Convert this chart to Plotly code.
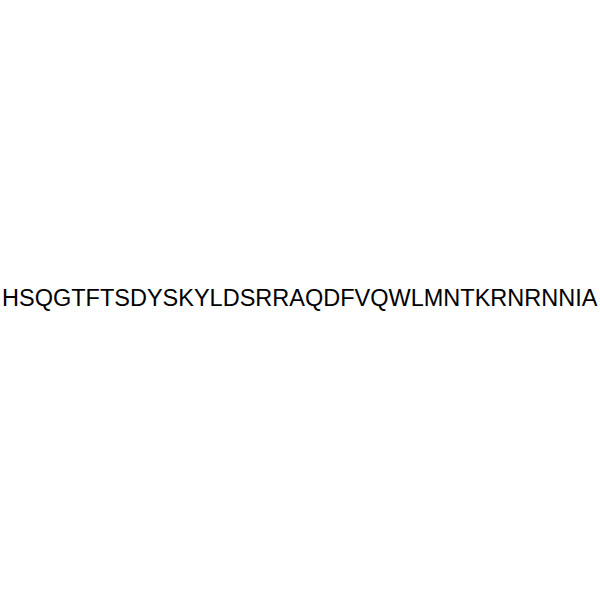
import plotly.graph_objects as go

sequence = "HSQGTFTSDYSKYLDSRRAQDFVQWLMNTKRNRNNIA"

fig = go.Figure()

fig.add_annotation(
    x=0.5, y=0.504, xref="paper", yref="paper",
    text=sequence,
    showarrow=False,
    font=dict(family="Liberation Sans, Arial", size=23.5, color="black"),
    xanchor="center", yanchor="middle",
)

fig.update_xaxes(visible=False)
fig.update_yaxes(visible=False)
fig.update_layout(
    width=600, height=600,
    margin={'l': 0, 't': 0, 'b': 0, 'r': 0},
    paper_bgcolor="white",
    plot_bgcolor="white",
    showlegend=False,
)

# drop the default body margin so the 600px figure fills the window exactly
fig.write_html("out.html", config={'displayModeBar': False},
               post_script="document.body.style.margin = '0';")
